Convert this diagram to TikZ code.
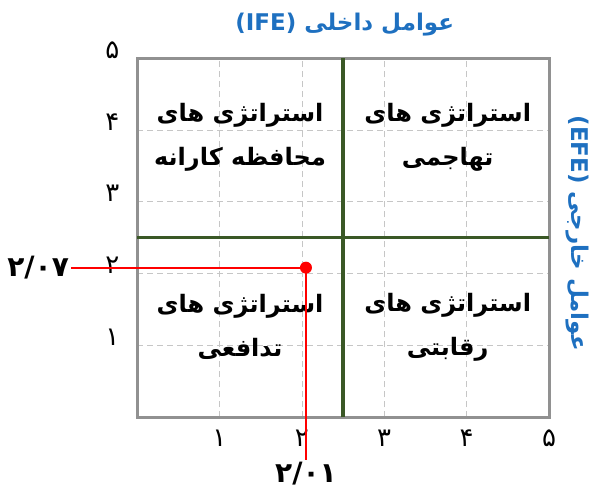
\documentclass[tikz,border=0pt]{standalone}
\usepackage{fontspec}
\newfontfamily\farsi[Script=Arabic]{DejaVu Sans}
\newfontfamily\latin{DejaVu Sans}
\TeXXeTstate=1
\usetikzlibrary{positioning}
\definecolor{titleblue}{RGB}{30,112,192}
\definecolor{splitgreen}{RGB}{58,88,38}
\definecolor{framegray}{RGB}{145,145,145}

\begin{document}
\begin{tikzpicture}[
    x=41.2pt, y=35.9pt,
    grid line/.style={gray!45, densely dashed, very thin},
    frame line/.style={framegray, line width=1.5pt},
    split line/.style={splitgreen, line width=1.6pt},
    tick label/.style={font=\farsi\fontsize{13}{15}\selectfont, inner sep=1pt},
    zone label/.style={font=\farsi\bfseries\fontsize{12}{22}\selectfont, align=center},
    axis title/.style={font=\farsi\bfseries\fontsize{11.5}{14}\selectfont, text=titleblue},
    value label/.style={font=\farsi\bfseries\fontsize{14}{16}\selectfont, inner sep=1pt},
    hit line/.style={draw=red, line width=1pt},
]

\useasboundingbox (-1.663,-1.017) rectangle (5.570,5.808);

% Grid
\foreach \i in {1,...,4} {
    \draw[grid line] (\i,0) -- (\i,5);
    \draw[grid line] (0,\i) -- (5,\i);
}

% Frame and quadrant split
\draw[frame line] (0,0) rectangle (5,5);
\draw[split line] (2.5,0) -- (2.5,5);
\draw[split line] (0,2.5) -- (5,2.5);

% Tick labels
\foreach \i/\d in {1/۱,2/۲,3/۳,4/۴,5/۵} {
    \node[tick label] (xt\i) at (\i,-0.3) {\d};
    \node[tick label] (yt\i) at (-0.3,\i+0.11) {\d};
}

% Axis titles
\node[axis title] (ife) at (2.52,5.46)
    {\beginR عوامل داخلی \beginL{\latin\bfseries (IFE)}\endL{}\endR};
\node[axis title, rotate=-90] (efe) at (5.34,2.56)
    {\beginR عوامل خارجی \beginL{\latin\bfseries (EFE)}\endL{}\endR};

% Quadrants
\node[zone label] (conservative) at (1.25,3.9)
    {\beginR استراتژی های\endR\\\beginR محافظه کارانه\endR};
\node[zone label] (aggressive) at (3.77,3.9)
    {\beginR استراتژی های\endR\\\beginR تهاجمی\endR};
\node[zone label] (defensive) at (1.25,1.25)
    {\beginR استراتژی های\endR\\\beginR تدافعی\endR};
\node[zone label] (competitive) at (3.77,1.25)
    {\beginR استراتژی های\endR\\\beginR رقابتی\endR};

% Position of the firm
\coordinate (hit) at (2.05,2.08);
\node[value label] (yval) at (-1.2,2.08) {۲/۰۷};
\node[value label] (xval) at (2.05,-0.79) {۲/۰۱};
\draw[hit line] (yval.east) -- (hit);
\draw[hit line] (hit) -- (xval.north);
\fill[red] (hit) circle (3pt);

\end{tikzpicture}
\end{document}
